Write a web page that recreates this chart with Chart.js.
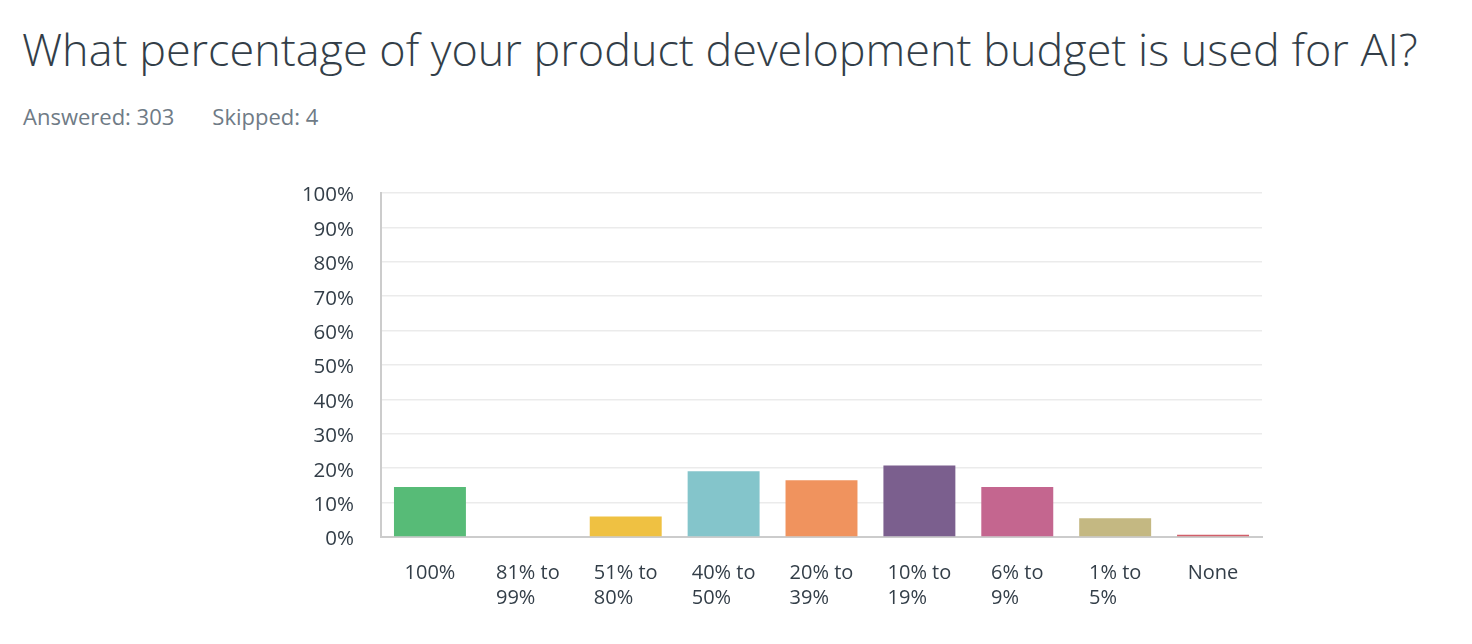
<!DOCTYPE html>
<html>
<head>
<meta charset="utf-8">
<script src="https://cdn.jsdelivr.net/npm/chart.js@4"></script>
<style>
  html, body { margin: 0; padding: 0; background: #fff; width: 1472px; height: 644px; overflow: hidden; }
  #title { position: absolute; left: 22px; top: 22px; font-family: "Open Sans", sans-serif; font-weight: 300; color: #333e48; white-space: nowrap; font-size: 46px; line-height: 1.2; }
  #sub { position: absolute; left: 23px; top: 101px; font-family: "Open Sans", sans-serif; font-weight: 400; color: #6f7b86; font-size: 22px; line-height: 30px; white-space: nowrap; }
  #sub span { margin-right: 38px; }
  #wrap { position: absolute; left: 0; top: 0; width: 1472px; height: 644px; }
</style>
</head>
<body>
<div id="title">What percentage of your product development budget is used for AI?</div>
<div id="sub"><span>Answered: 303</span><span>Skipped: 4</span></div>
<div id="wrap"><canvas id="c"></canvas></div>
<script>
const categories = ["100%", "81% to\n99%", "51% to\n80%", "40% to\n50%", "20% to\n39%", "10% to\n19%", "6% to\n9%", "1% to\n5%", "None"];
const percentValues = [14.52, 0, 5.94, 19.14, 16.50, 20.79, 14.52, 5.45, 0.66];
const yTickValues = [0, 10, 20, 30, 40, 50, 60, 70, 80, 90, 100];

const barColors = ["#57bb77", "#57bb77", "#efc142", "#84c5cb", "#f0935e", "#7b5f8e", "#c4668f", "#c4b882", "#d25f6a"];

// fit title width to reference
(function(){
  const t = document.getElementById('title');
  const target = 1396;
  const w = t.getBoundingClientRect().width;
  t.style.fontSize = (46 * target / w).toFixed(2) + 'px';
})();

const labelFont = '20px "Open Sans", sans-serif';

const xLabelPlugin = {
  id: 'xLabels',
  afterDraw(chart) {
    const ctx = chart.ctx;
    const xs = chart.scales.x;
    const area = chart.chartArea;
    ctx.save();
    ctx.font = labelFont;
    ctx.fillStyle = '#333e48';
    ctx.textBaseline = 'middle';
    ctx.textAlign = 'left';
    categories.forEach((lab, i) => {
      const lines = lab.split('\n');
      const maxW = Math.max(...lines.map(l => ctx.measureText(l).width));
      const cx = xs.getPixelForValue(i);
      const left = cx - maxW / 2;
      lines.forEach((l, j) => {
        ctx.fillText(l, left, area.bottom + 36 + j * 25);
      });
    });
    ctx.restore();
  }
};

new Chart(document.getElementById('c'), {
  type: 'bar',
  data: {
    labels: categories,
    datasets: [{
      data: percentValues,
      backgroundColor: barColors,
      borderWidth: 0,
      categoryPercentage: 1.0,
      barPercentage: 0.735
    }]
  },
  options: {
    responsive: true,
    maintainAspectRatio: false,
    animation: false,
    layout: { padding: { left: 0, right: 210, top: 193, bottom: 0 } },
    plugins: { legend: { display: false }, tooltip: { enabled: false } },
    scales: {
      x: {
        grid: { display: false },
        border: { display: true, color: '#cccccc', width: 2 },
        ticks: { display: false },
        afterFit(scale) { scale.height = 107; }
      },
      y: {
        min: 0, max: 100,
        afterBuildTicks(scale) { scale.ticks = yTickValues.map(v => ({ value: v })); },
        grid: { color: '#ebebeb', lineWidth: 1.5, drawTicks: false },
        border: { display: true, color: '#cccccc', width: 2 },
        ticks: {
          padding: 27,
          labelOffset: 2.5,
          color: '#333e48',
          font: { family: '"Open Sans", sans-serif', size: 20.5 },
          callback: v => v + '%'
        },
        afterFit(scale) { scale.width = 381; }
      }
    }
  },
  plugins: [xLabelPlugin]
});
</script>
</body>
</html>
